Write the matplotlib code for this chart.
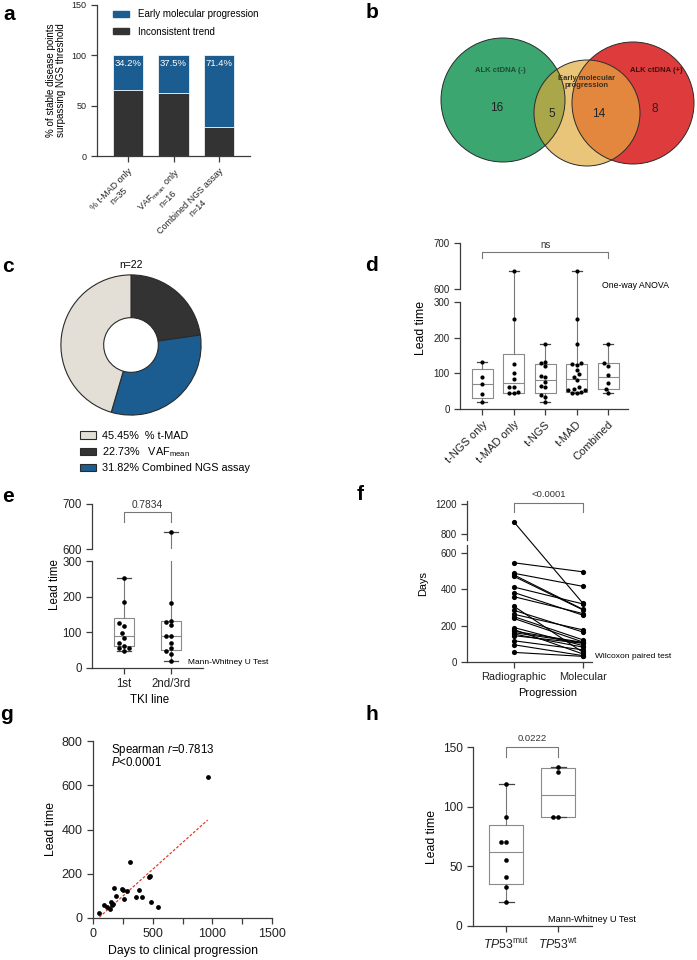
import numpy as np
import matplotlib
matplotlib.use('Agg')
import matplotlib.pyplot as plt
from matplotlib.patches import Circle, Patch
from matplotlib.lines import Line2D

plt.rcParams['font.family'] = ['Liberation Sans', 'DejaVu Sans']
plt.rcParams['mathtext.fontset'] = 'custom'
plt.rcParams['mathtext.rm'] = 'Liberation Sans'
plt.rcParams['mathtext.it'] = 'Liberation Sans:italic'
plt.rcParams['mathtext.bf'] = 'Liberation Sans:bold'

# --- a: stacked bars ---
a_labels = ['% t-MAD only\nn=35', 'VAF$_{\\mathrm{mean}}$ only\nn=16', 'Combined NGS assay\nn=14']
a_inconsistent = [65.8, 62.5, 28.6]
a_early = [34.2, 37.5, 71.4]

# --- b: venn counts ---
b_counts = {'neg_only': 16, 'neg_early': 5, 'pos_early': 14, 'pos_only': 8}

# --- c: donut ---
c_labels = ['45.45%  % t-MAD', '22.73%   VAF$_{\\mathrm{mean}}$', '31.82% Combined NGS assay']
c_values = [45.45, 22.73, 31.82]
c_colors = ['#e3dfd6', '#333333', '#1c5d91']

# --- d: lead time by assay ---
d_groups = ['t-NGS only', 't-MAD only', 't-NGS', 't-MAD', 'Combined']
d_points = [
    [133, 90, 70, 41, 20],
    [640, 253, 126, 100, 84, 63, 63, 47, 45, 45],
    [182, 133, 128, 120, 92, 90, 77, 65, 63, 40, 33, 20],
    [640, 253, 182, 128, 125, 122, 110, 97, 90, 80, 62, 55, 52, 52, 48, 45, 45],
    [182, 128, 120, 95, 72, 55, 45],
]
d_q1 = [30, 46, 44, 48, 55]
d_med = [70, 74, 81, 84, 90]
d_q3 = [111, 155, 125, 126, 128]

# --- e: lead time by TKI line ---
e_groups = ['1st', '2nd/3rd']
e_points = [
    [253, 186, 125, 118, 97, 85, 70, 63, 57, 55, 48],
    [638, 182, 133, 128, 120, 90, 90, 70, 55, 48, 40, 20],
]
e_q1 = [62, 50]
e_med = [90, 90]
e_q3 = [139, 131]

# --- f/g: paired days (clinical/radiographic progression, lead time) ---
g_days = [53, 95, 117, 145, 154, 162, 170, 179, 190, 240, 250, 263, 285, 307,
          360, 383, 413, 472, 480, 489, 547, 961]
g_lead = [22, 60, 50, 42, 72, 57, 62, 135, 100, 130, 128, 86, 120, 254,
          93, 125, 93, 185, 190, 72, 50, 638]

# --- h: TP53 ---
h_groups = ['$\\mathit{TP53}^{\\mathrm{mut}}$', '$\\mathit{TP53}^{\\mathrm{wt}}$']
h_points = [[119, 91, 70, 70, 55, 41, 33, 20], [133, 129, 91, 91]]
h_q1 = [35, 91]
h_med = [62, 110]
h_q3 = [85, 132]

W, H = 697, 960
fig = plt.figure(figsize=(W / 100, H / 100), dpi=100)

AXC = '#3c3c3c'
BOXC = '#8a8a8a'


def add_ax(x0, y0, x1, y1):
    return fig.add_axes([x0 / W, 1 - y1 / H, (x1 - x0) / W, (y1 - y0) / H])


def ftext(x, y, s, **kw):
    return fig.text(x / W, 1 - y / H, s, **kw)


def style(ax, fs, bottom=True):
    for sp in ['top', 'right']:
        ax.spines[sp].set_visible(False)
    ax.spines['bottom'].set_visible(bottom)
    for sp in ax.spines.values():
        sp.set_color(AXC)
        sp.set_linewidth(0.9)
    ax.tick_params(colors=AXC, labelcolor='#222222', labelsize=fs,
                   length=4, width=0.9, direction='out')
    if not bottom:
        ax.tick_params(axis='x', bottom=False, labelbottom=False)
    ax.patch.set_alpha(0)


def swarm(vals, pos, px_x, px_y, d=4.6):
    # simple beeswarm: nearest free horizontal slot
    placed, xs = [], []
    offs = sorted(np.arange(-8, 9) * d / 2, key=lambda o: (abs(o), o))
    for v in vals:
        y = v * px_y
        for o in offs:
            if all((o - px) ** 2 + (y - py) ** 2 >= (d * 0.95) ** 2 for px, py in placed):
                break
        placed.append((o, y))
        xs.append(pos + o / px_x)
    return xs


def boxes(ax_list, pts, q1, med, q3, width, capw):
    stats = [dict(q1=a, med=m, q3=b, whislo=min(p), whishi=max(p))
             for p, a, m, b in zip(pts, q1, med, q3)]
    for ax in ax_list:
        ax.bxp(stats, positions=range(len(stats)), widths=width, capwidths=capw,
               showfliers=False, manage_ticks=False,
               boxprops=dict(color=BOXC, lw=0.8), medianprops=dict(color=BOXC, lw=0.8),
               whiskerprops=dict(color='#777777', lw=0.8), capprops=dict(color='#444444', lw=0.9))


# ================= a =================
ax = add_ax(97, 5, 250, 156)
style(ax, 6.5)
x = np.arange(len(a_labels))
ax.bar(x, a_inconsistent, width=0.66, color='#333333', edgecolor='white', lw=0.5, zorder=2)
ax.bar(x, a_early, bottom=a_inconsistent, width=0.66, color='#1c5d91', edgecolor='white', lw=0.5, zorder=2)
for xi, b, t in zip(x, a_inconsistent, a_early):
    ax.text(xi, b + t - 8, f'{t}%', color='white', ha='center', va='center', fontsize=6.8, zorder=3)
ax.set_ylim(0, 150)
ax.set_xlim(-0.68, 2.68)
ax.set_yticks([0, 50, 100, 150])
ax.set_xticks(x)
ax.set_xticklabels(a_labels, rotation=45, ha='right', rotation_mode='anchor',
                   multialignment='center', fontsize=6.5)
ax.legend([Patch(color='#1c5d91'), Patch(color='#333333')],
          ['Early molecular progression', 'Inconsistent trend'],
          loc='upper left', bbox_to_anchor=(0.05, 1.03), frameon=False, fontsize=7,
          handlelength=1.6, handleheight=0.6, labelspacing=0.75, handletextpad=0.9)
ftext(56, 80, '% of stable disease points\nsurpassing NGS threshold', rotation=90,
      ha='center', va='center', fontsize=7, linespacing=1.0)

# ================= b =================
vb = add_ax(340, 0, 697, 240)
vb.set_xlim(340, 697)
vb.set_ylim(240, 0)
vb.axis('off')
g_c = Circle((503, 100), 62, facecolor='#3ca670', edgecolor='none')
r_c = Circle((633, 103), 61, facecolor='#de3c3c', edgecolor='none')
vb.add_patch(g_c)
vb.add_patch(r_c)
vb.add_patch(Circle((587, 113), 53, facecolor='#e9c57a', edgecolor='none'))
olive = Circle((587, 113), 53, facecolor='#aaa64a', edgecolor='none')
vb.add_patch(olive)
olive.set_clip_path(g_c)
orange = Circle((587, 113), 53, facecolor='#e2873d', edgecolor='none')
vb.add_patch(orange)
orange.set_clip_path(r_c)
for c in [(503, 100, 62), (633, 103, 61), (587, 113, 53)]:
    vb.add_patch(Circle(c[:2], c[2], facecolor='none', edgecolor='#2a2a2a', lw=0.7))
vb.text(500, 71, 'ALK ctDNA (-)', ha='center', va='center', fontsize=5.5, fontweight='bold', color='#1d4a33')
vb.text(656, 71, 'ALK ctDNA (+)', ha='center', va='center', fontsize=5.5, fontweight='bold', color='#3a1010')
vb.text(587, 82, 'Early molecular\nprogression', ha='center', va='center', fontsize=5.5,
        fontweight='bold', color='#3a3020', linespacing=1.1)
for key, xy in zip(['neg_only', 'neg_early', 'pos_early', 'pos_only'],
                   [(497, 108), (552, 114), (599, 114), (655, 109)]):
    vb.text(xy[0], xy[1], str(b_counts[key]), ha='center', va='center', fontsize=8.5, color='#222222')

# ================= c =================
cx, cy, cr = 131, 345, 71.5
ac = add_ax(cx - cr, cy - cr, cx + cr, cy + cr)
order = [1, 2, 0]
ac.pie([c_values[i] for i in order], colors=[c_colors[i] for i in order], startangle=90,
       counterclock=False, radius=1, wedgeprops=dict(width=0.61, edgecolor='#2a2a2a', lw=0.8))
ac.set_xlim(-1.02, 1.02)
ac.set_ylim(-1.02, 1.02)
ac.set_aspect('equal')
ftext(131, 265, 'n=22', ha='center', va='center', fontsize=7.5)
fig.legend([Patch(facecolor=c, edgecolor='#2a2a2a', lw=0.8) for c in c_colors], c_labels,
           loc='upper left', bbox_to_anchor=(70 / W, 1 - 421 / H), frameon=False, fontsize=7.8,
           handlelength=1.5, handleheight=0.7, labelspacing=0.4, handletextpad=0.6)

# ================= d =================
d_lo = add_ax(460, 302, 628, 409)
d_hi = add_ax(460, 243, 628, 302)
style(d_lo, 7)
style(d_hi, 7, bottom=False)
d_lo.set_ylim(0, 300)
d_hi.set_ylim(600 - 13 / 0.46, 700)
d_hi.spines['left'].set_bounds(600, 700)
d_lo.set_yticks([0, 100, 200, 300])
d_hi.set_yticks([600, 700])
boxes([d_lo, d_hi], d_points, d_q1, d_med, d_q3, 0.67, 0.32)
for i, p in enumerate(d_points):
    xs = swarm(sorted(p), i, 31.5, 0.357, d=4.4)
    for a_ in (d_lo, d_hi):
        a_.scatter(xs, sorted(p), s=9, color='black', zorder=4, linewidths=0)
for a_ in (d_lo, d_hi):
    a_.set_xlim(-0.70, 4.63)
d_lo.set_xticks(range(len(d_groups)))
d_lo.set_xticklabels(d_groups, rotation=45, ha='right', rotation_mode='anchor', fontsize=8)
d_hi.plot([0, 0, 4, 4], [667, 681, 681, 667], color='#777777', lw=0.8, clip_on=False)
d_hi.text(2, 684, 'ns', ha='center', va='bottom', fontsize=7, color='#333333', clip_on=False)
ftext(635, 286, 'One-way ANOVA', ha='center', va='center', fontsize=6.3)
ftext(421, 328, 'Lead time', rotation=90, ha='center', va='center', fontsize=8.8)

# ================= e =================
e_lo = add_ax(92, 561, 203, 668)
e_hi = add_ax(92, 504, 203, 549)
style(e_lo, 8.3)
style(e_hi, 8.3, bottom=False)
e_lo.set_ylim(0, 300)
e_hi.set_ylim(600, 700)
e_lo.set_yticks([0, 100, 200, 300])
e_hi.set_yticks([600, 700])
boxes([e_lo, e_hi], e_points, e_q1, e_med, e_q3, 0.43, 0.28)
for i, p in enumerate(e_points):
    xs = swarm(sorted(p), i, 47, 0.357, d=4.8)
    for a_ in (e_lo, e_hi):
        a_.scatter(xs, sorted(p), s=11, color='black', zorder=4, linewidths=0)
for a_ in (e_lo, e_hi):
    a_.set_xlim(-0.68, 1.68)
e_lo.set_xticks(range(len(e_groups)))
e_lo.set_xticklabels(e_groups, fontsize=8.3)
e_hi.plot([0, 0, 1, 1], [660, 682, 682, 660], color='#777777', lw=0.8, clip_on=False)
e_hi.text(0.5, 686, '0.7834', ha='center', va='bottom', fontsize=7.3, color='#333333', clip_on=False)
ftext(188, 662, 'Mann-Whitney U Test', ha='left', va='center', fontsize=6)
ftext(55, 585, 'Lead time', rotation=90, ha='center', va='center', fontsize=8.3)
ftext(150, 700, 'TKI line', ha='center', va='center', fontsize=8.3)

# ================= f =================
f_lo = add_ax(467, 545, 592, 662)
f_hi = add_ax(467, 501, 592, 540)
style(f_lo, 7)
style(f_hi, 7, bottom=False)
f_lo.set_ylim(0, 645)
f_hi.set_ylim(721, 1240)
f_lo.set_yticks([0, 200, 400, 600])
f_hi.set_yticks([800, 1200])
for a_ in (f_lo, f_hi):
    a_.set_xlim(-0.68, 1.13)
f_lo.set_xticks([0, 1])
f_lo.set_xticklabels(['Radiographic', 'Molecular'], fontsize=7.9)
f_mol = [d - l for d, l in zip(g_days, g_lead)]
to_fig = fig.transFigure.inverted()


def f_point(xv, v):
    a_ = f_hi if v > 700 else f_lo
    return to_fig.transform(a_.transData.transform((xv, v)))


for r, m in zip(g_days, f_mol):
    p0, p1 = f_point(0, r), f_point(1, m)
    fig.add_artist(Line2D([p0[0], p1[0]], [p0[1], p1[1]], color='black', lw=0.8,
                          transform=fig.transFigure, zorder=3))
for xv, vals in [(0, g_days), (1, f_mol)]:
    for a_ in (f_lo, f_hi):
        a_.scatter([xv] * len(vals), vals, s=14, color='black', zorder=4, linewidths=0)
f_hi.plot([0, 0, 1, 1], [1094, 1213, 1213, 1094], color='#777777', lw=0.8, clip_on=False)
f_hi.text(0.5, 1270, '<0.0001', ha='center', va='bottom', fontsize=6.8, color='#333333', clip_on=False)
ftext(595, 657, 'Wilcoxon paired test', ha='left', va='center', fontsize=6)
ftext(423, 583, 'Days', rotation=90, ha='center', va='center', fontsize=7.9)
ftext(548, 693, 'Progression', ha='center', va='center', fontsize=7.9)

# ================= g =================
ag = add_ax(93, 741, 272, 918)
style(ag, 9)
ag.scatter(g_days, g_lead, s=12, color='black', zorder=3, linewidths=0)
k, b0 = np.polyfit(g_days, g_lead, 1)
xx = np.array([min(g_days), max(g_days)])
ag.plot(xx, k * xx + b0, color='#d9412b', lw=0.9, ls=(0, (2.2, 1.4)), zorder=2)
ag.set_xlim(0, 1500)
ag.set_ylim(0, 800)
ag.set_xticks([0, 500, 1000, 1500])
ag.set_xticks([250, 750, 1250], minor=True)
ag.tick_params(which='minor', length=4, width=0.9, color=AXC)
ag.set_yticks([0, 200, 400, 600, 800])
ag.set_xlabel('Days to clinical progression', fontsize=8.8, labelpad=3)
ag.set_ylabel('Lead time', fontsize=8.8, labelpad=3)
ftext(111, 750, 'Spearman $\\mathit{r}$=0.7813', ha='left', va='center', fontsize=8.3)
ftext(111, 763, '$\\mathit{P}$<0.0001', ha='left', va='center', fontsize=8.3)

# ================= h =================
ah = add_ax(473, 747, 592, 926)
style(ah, 8.6)
ah.set_ylim(0, 150)
ah.set_yticks([0, 50, 100, 150])
boxes([ah], h_points, h_q1, h_med, h_q3, 0.66, 0.29)
for i, p in enumerate(h_points):
    xs = swarm(sorted(p), i, 52, 1.19, d=5.0)
    ah.scatter(xs, sorted(p), s=11, color='black', zorder=4, linewidths=0)
ah.set_xlim(-0.635, 1.65)
ah.set_xticks(range(len(h_groups)))
ah.set_xticklabels(h_groups, fontsize=8.8)
ah.plot([0, 0, 1, 1], [142, 150.4, 150.4, 142], color='#777777', lw=0.8, clip_on=False)
ah.text(0.5, 153, '0.0222', ha='center', va='bottom', fontsize=6.8, color='#333333', clip_on=False)
ftext(548, 920, 'Mann-Whitney U Test', ha='left', va='center', fontsize=6.6)
ftext(432, 837, 'Lead time', rotation=90, ha='center', va='center', fontsize=8.8)

# ================= panel letters =================
for s, x0, y0 in [('a', 9, 15), ('b', 372, 13), ('c', 8, 267), ('d', 372, 265),
                  ('e', 8, 497), ('f', 360, 495), ('g', 7, 715), ('h', 372, 715)]:
    ftext(x0, y0, s, fontsize=15, fontweight='bold', ha='center', va='center')

fig.savefig('out.png', dpi=100)
